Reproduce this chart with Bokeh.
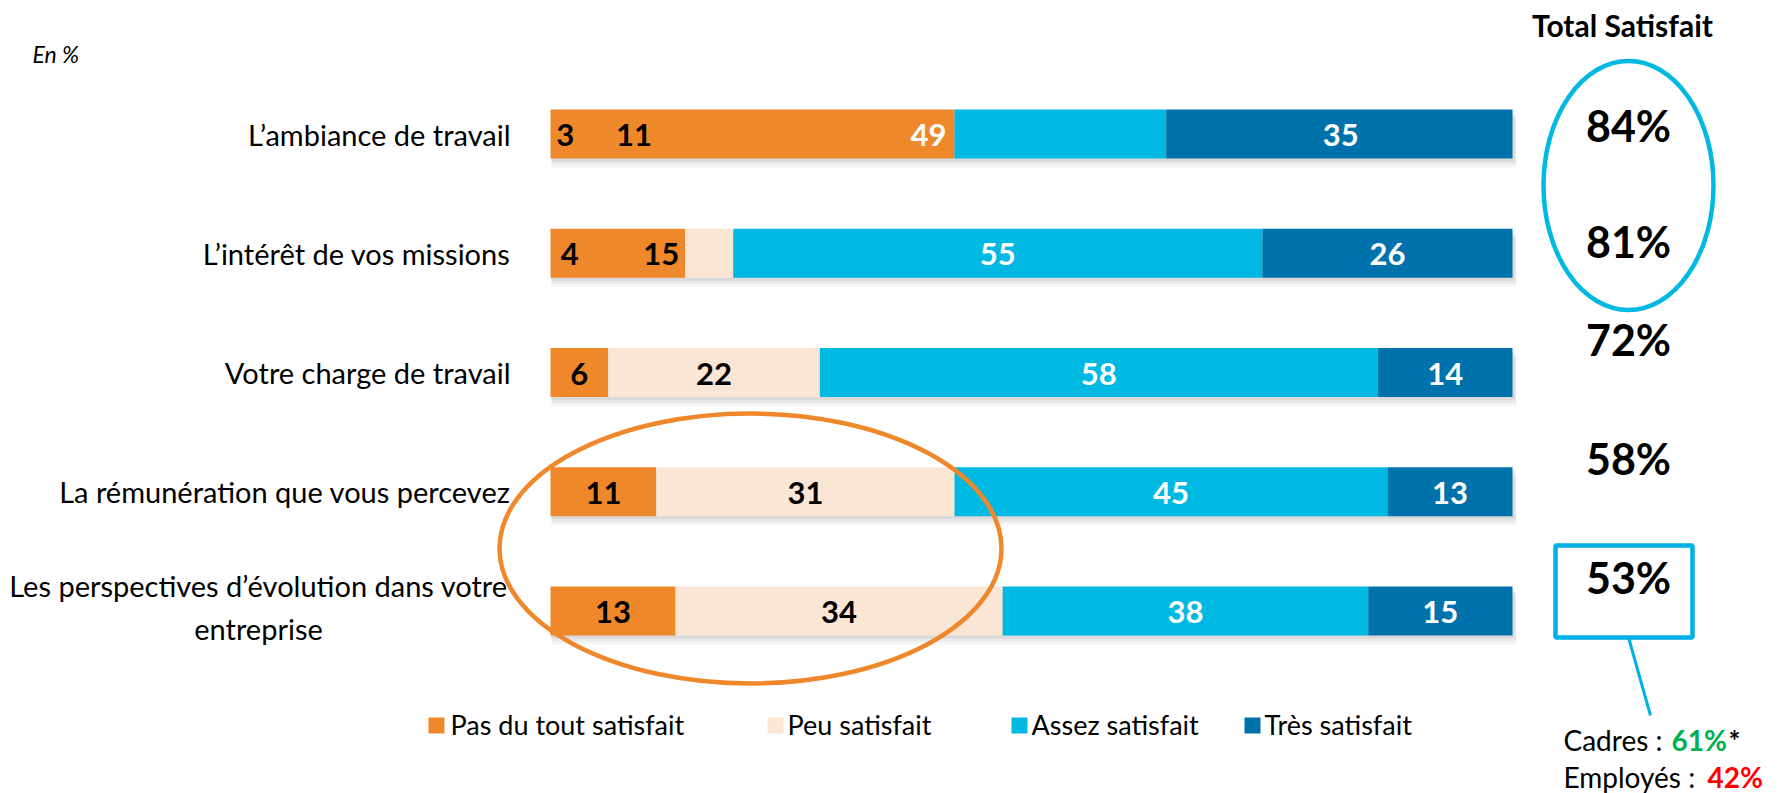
from bokeh.plotting import figure
from bokeh.models import Range1d, ColumnDataSource
from bokeh.core.properties import value
from bokeh.embed import file_html
from bokeh.resources import INLINE

# ---------------- data ----------------
categories = [
    "L’ambiance de travail",
    "L’intérêt de vos missions",
    "Votre charge de travail",
    "La rémunération que vous percevez",
    "Les perspectives d’évolution dans votre\nentreprise",
]
series = ["Pas du tout satisfait", "Peu satisfait", "Assez satisfait", "Très satisfait"]
colors = ["#EF882A", "#FBE5D5", "#00B9E3", "#0072AB"]
label_colors = ["black", "black", "white", "white"]

# printed values
pas = [3, 4, 6, 11, 13]
peu = [11, 15, 22, 31, 34]
assez = [49, 55, 58, 45, 38]
tres = [35, 26, 14, 13, 15]
# segment lengths as drawn in the reference picture
pas_drawn = [42, 14, 6, 11, 13]
peu_drawn = [0, 5, 22, 31, 34]
assez_drawn = [22, 55, 58, 45, 38]
tres_drawn = [36, 26, 14, 13, 15]

total_satisfait = [84, 81, 72, 58, 53]
cadres = 61
employes = 42

# ---------------- layout ----------------
W, H = 1781, 793
K = 9.62            # px per percent
X0 = 550            # px of 0 %
def fx(px):          # page px -> x data
    return (px - X0) / K
def fy(py):          # page py -> y data
    return py

p = figure(width=W, height=H, output_backend="svg", toolbar_location=None,
           x_range=Range1d(-X0 / K, (W - X0) / K), y_range=Range1d(H, 0),
           min_border=0)
p.axis.visible = False
p.grid.visible = False
p.outline_line_color = None
p.background_fill_color = "white"

FONT = value("Lato")
n = len(categories)
ycen = [fy(133.5 + i * 119.25) for i in range(n)]
BAR_H = 49

# shadows
for dy, dx, a in [(3, 0.25, 0.10), (6, 0.35, 0.08), (9, 0.45, 0.05)]:
    p.hbar(y=[y + dy for y in ycen], left=[0.1] * n, right=[100 + dx] * n,
           height=BAR_H, fill_color="#555555", fill_alpha=a, line_color=None)

drawn = [pas_drawn, peu_drawn, assez_drawn, tres_drawn]
left = [0.0] * n
for s, vals in enumerate(drawn):
    right = [l + v for l, v in zip(left, vals)]
    p.hbar(y=ycen, left=left, right=right, height=BAR_H,
           fill_color=colors[s], line_color=None)
    left = right

# value labels (centred on their 100%-normalised segments)
printed = [pas, peu, assez, tres]
lx, ly, lt, lc = [], [], [], []
for i in range(n):
    tot = sum(printed[s][i] for s in range(4))
    cum = 0.0
    for s in range(4):
        v = printed[s][i]
        c = (cum + v / 2) * 100 / tot
        cum += v
        lx.append(c); ly.append(ycen[i] + 1); lt.append(str(v)); lc.append(label_colors[s])
p.text(x="x", y="y", text="t", text_color="c",
       source=ColumnDataSource(dict(x=lx, y=ly, t=lt, c=lc)),
       text_font=FONT, text_font_style="bold", text_font_size="31px",
       text_align="center", text_baseline="middle")

# category labels
p.text(x=[fx(510)] * 4, y=ycen[:4], text=categories[:4], text_font=FONT,
       text_font_size="29px", text_align="right", text_baseline="middle",
       text_color="black")
p.text(x=[fx(258)], y=[ycen[4] - 4], text=[categories[4]], text_font=FONT,
       text_font_size="29px", text_align="center", text_baseline="middle",
       text_color="black", text_line_height=1.25)

p.text(x=[fx(32)], y=[fy(53)], text=["En %"], text_font=FONT,
       text_font_style="italic", text_font_size="23px",
       text_baseline="middle", text_color="black")

# totals column
p.text(x=[fx(1622)], y=[fy(24)], text=["Total Satisfait"], text_font=FONT,
       text_font_style="bold", text_font_size="30px", text_align="center",
       text_baseline="middle", text_color="black")
tot_y = [125, 241, 339, 458, 577]
p.text(x=[fx(1628)] * n, y=[fy(v) for v in tot_y],
       text=[f"{v}%" for v in total_satisfait], text_font=FONT,
       text_font_style="bold", text_font_size="43px", text_align="center",
       text_baseline="middle", text_color="black")

# highlight shapes
p.ellipse(x=[fx(1628)], y=[fy(185)], width=[170], height=[249],
          width_units="screen", height_units="screen",
          fill_alpha=0, line_color="#00B9E3", line_width=4.5)
p.ellipse(x=[fx(750)], y=[fy(548)], width=[502], height=[270],
          width_units="screen", height_units="screen",
          fill_alpha=0, line_color="#EF882A", line_width=4.5)
p.quad(left=[fx(1555)], right=[fx(1692)], top=[fy(545)], bottom=[fy(637)],
       fill_alpha=0, line_color="#00B0E8", line_width=4.5)
p.line(x=[fx(1628), fx(1650)], y=[fy(637), fy(715)], line_color="#00B0E8",
       line_width=3)

# Cadres / Employés
p.text(x=[fx(1563)], y=[fy(739)], text=["Cadres :"], text_font=FONT,
       text_font_size="28px", text_baseline="middle", text_color="black")
p.text(x=[fx(1671)], y=[fy(739)], text=[f"{cadres}%"], text_font=FONT,
       text_font_style="bold", text_font_size="28px", text_baseline="middle",
       text_color="#00B050")
p.text(x=[fx(1728)], y=[fy(739)], text=["*"], text_font=FONT,
       text_font_style="bold", text_font_size="28px", text_baseline="middle",
       text_color="black")
p.text(x=[fx(1563)], y=[fy(776)], text=["Employés :"], text_font=FONT,
       text_font_size="28px", text_baseline="middle", text_color="black")
p.text(x=[fx(1707)], y=[fy(776)], text=[f"{employes}%"], text_font=FONT,
       text_font_style="bold", text_font_size="28px", text_baseline="middle",
       text_color="#FF0000")

# legend
leg_marker_x = [436, 775, 1019, 1252]
leg_text_x = [450, 787, 1031, 1264]
p.rect(x=[fx(v) for v in leg_marker_x], y=[fy(725)] * 4, width=16, height=16,
       width_units="screen", height_units="screen", fill_color=colors,
       line_color=None)
p.text(x=[fx(v) for v in leg_text_x], y=[fy(724)] * 4, text=series,
       text_font=FONT, text_font_size="27px", text_baseline="middle",
       text_color="black")

open("out.html", "w").write(file_html(p, INLINE))
